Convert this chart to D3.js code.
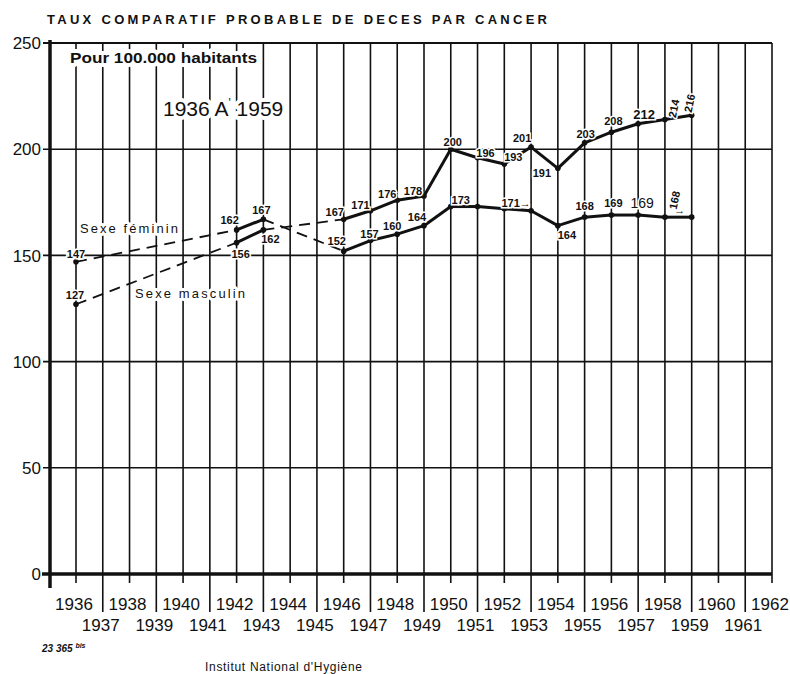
<!DOCTYPE html>
<html>
<head>
<meta charset="utf-8">
<script src="https://cdn.jsdelivr.net/npm/d3@7"></script>
<style>
  body { margin: 0; background: #fff; }
  text { font-family: "Liberation Sans", Arial, sans-serif; fill: #111; }
</style>
</head>
<body>
<div id="chart"></div>
<script>
// Data
var years = [1936, 1942, 1943, 1946, 1947, 1948, 1949, 1950, 1951, 1952, 1953, 1954, 1955, 1956, 1957, 1958, 1959]
var female = [147, 162, 167, 152, 157, 160, 164, 173, 173, 172, 171, 164, 168, 169, 169, 168, 168]
var male = [127, 156, 162, 167, 171, 176, 178, 200, 196, 193, 201, 191, 203, 208, 212, 214, 216]
var femaleLabels = ["147", "162", "167", "152", "157", "160", "164", "173", "", "", "171→", "164", "168", "169", "169", "", "168"]
var maleLabels = ["127", "156", "162", "167", "171", "176", "178", "200", "196", "193", "201", "191", "203", "208", "212", "214", "216"]
var yTicks = [0, 50, 100, 150, 200, 250]
var axisYears = d3.range(1936, 1963)

// label placement next to each point: [dx, dy, rotation]
var femaleLabelPos = [[0,-4,0],[-7,-6,0],[-2,-5,0],[-7,-6,0],[-1,-3,0],[-5,-4,0],[-7,-5,0],[10,-3,0],[0,0,0],[0,0,0],
  [-15,-4,0],[9,13,0],[0,-7,0],[2,-8,0],[4,-7,0],[0,0,0],[-17,-17,-78]]
var maleLabelPos = [[-1,-5,0],[4,15,0],[7,13,0],[-9,-3,0],[-10,-2,0],[-10,-2,0],[-11,-1,0],[2,-3,0],[8,-1,0],[9,-3,0],
  [-9,-5,0],[-16,9,0],[1,-5,0],[2,-7,0],[6,-5,0],[9,-11,-78],[-2,-12,-78]]

var W = 790, H = 674

var svg = d3.select("#chart").append("svg")
    .attr("width", W).attr("height", H)

var x = d3.scaleLinear().domain([1936, 1962]).range([76, 772])
var y = d3.scaleLinear().domain([0, 250]).range([574, 43])
var left = 50

// title
svg.append("text")
    .attr("x", 47).attr("y", 24)
    .attr("textLength", 500).attr("lengthAdjust", "spacing")
    .style("font-size", "13px").style("font-weight", "bold")
    .text("TAUX COMPARATIF PROBABLE DE DECES PAR CANCER")

var grid = svg.append("g")

// vertical year lines
grid.selectAll("line.v").data(axisYears).enter().append("line")
    .attr("class", "v")
    .attr("x1", d => x(d)).attr("x2", d => x(d))
    .attr("y1", y(250))
    .attr("y2", d => d % 2 ? 612 : y(0) + 9)
    .style("stroke", "#111").style("stroke-width", 1.6)

// horizontal lines
grid.selectAll("line.h").data(yTicks.filter(d => d > 0)).enter().append("line")
    .attr("class", "h")
    .attr("x1", left - 7).attr("x2", x(1962))
    .attr("y1", d => y(d)).attr("y2", d => y(d))
    .style("stroke", "#111").style("stroke-width", d => d == 250 ? 2 : 1.6)

// axes
svg.append("line")
    .attr("x1", left).attr("x2", left)
    .attr("y1", y(250) - 3).attr("y2", y(0) + 14)
    .style("stroke", "#111").style("stroke-width", 3.5)
svg.append("line")
    .attr("x1", left - 8).attr("x2", x(1962))
    .attr("y1", y(0)).attr("y2", y(0))
    .style("stroke", "#111").style("stroke-width", 3.5)

svg.selectAll("text.ytick").data(yTicks).enter().append("text")
    .attr("class", "ytick")
    .attr("x", 41).attr("y", d => y(d)).attr("dy", "0.36em")
    .attr("text-anchor", "end")
    .style("font-size", "17px")
    .text(d => d)

svg.selectAll("text.xtick").data(axisYears).enter().append("text")
    .attr("class", "xtick")
    .attr("x", d => x(d) - 2)
    .attr("y", d => d % 2 ? 631 : 610)
    .attr("text-anchor", "middle")
    .style("font-size", "17px")
    .text(d => d)

// annotations inside the plot
function halo(sel, w) {
  return sel.style("stroke", "#fff").style("stroke-width", w)
    .style("paint-order", "stroke").style("stroke-linejoin", "round")
}
halo(svg.append("text")
    .attr("x", 70).attr("y", 63)
    .attr("textLength", 187).attr("lengthAdjust", "spacingAndGlyphs")
    .style("font-size", "14px").style("font-weight", "bold")
    .text("Pour 100.000 habitants"), 8)

var period = svg.append("text")
    .attr("x", 163).attr("y", 116)
    .style("font-size", "21px")
halo(period, 8)
period.append("tspan").text("1936 A")
period.append("tspan").attr("dy", -9).style("font-size", "12px").text("'")
period.append("tspan").attr("dy", 9).text(" 1959")

halo(svg.append("text")
    .attr("x", 80).attr("y", 233)
    .attr("textLength", 98).attr("lengthAdjust", "spacing")
    .style("font-size", "13px")
    .text("Sexe féminin"), 6)
halo(svg.append("text")
    .attr("x", 135).attr("y", 298)
    .attr("textLength", 110).attr("lengthAdjust", "spacing")
    .style("font-size", "13px")
    .text("Sexe masculin"), 6)

// series
function drawSeries(values, labels, pos, name, big) {
  var g = svg.append("g").attr("id", name)
  var segs = d3.range(values.length - 1).map(i => ({
    a: i, b: i + 1, dashed: years[i + 1] - years[i] > 1
  }))
  g.selectAll("line").data(segs).enter().append("line")
    .attr("x1", d => x(years[d.a])).attr("y1", d => y(values[d.a]))
    .attr("x2", d => x(years[d.b])).attr("y2", d => y(values[d.b]))
    .style("stroke", "#111")
    .style("stroke-width", d => d.dashed ? 1.8 : 3)
    .style("stroke-dasharray", d => d.dashed ? "11,7" : null)
  g.selectAll("circle").data(values).enter().append("circle")
    .attr("cx", (d, i) => x(years[i])).attr("cy", d => y(d))
    .attr("r", 2.8).style("fill", "#111")
  g.selectAll("text").data(labels).enter().append("text")
    .attr("transform", (d, i) => "translate(" + (x(years[i]) + pos[i][0]) + "," + (y(values[i]) + pos[i][1]) + ") rotate(" + pos[i][2] + ")")
    .attr("dy", (d, i) => pos[i][2] ? "0.35em" : 0)
    .attr("text-anchor", "middle")
    .style("font-size", (d, i) => years[i] == 1957 ? big.size : "11px")
    .style("font-weight", (d, i) => years[i] == 1957 ? big.weight : "bold")
    .style("stroke", "#fff").style("stroke-width", 3).style("paint-order", "stroke")
    .text(d => d)
}
drawSeries(female, femaleLabels, femaleLabelPos, "fem", {size: "14px", weight: "normal"})
drawSeries(male, maleLabels, maleLabelPos, "masc", {size: "13px", weight: "bold"})

// little arrow under the rotated 168
svg.append("text")
    .attr("x", x(1959) - 12).attr("y", y(168) - 3)
    .attr("text-anchor", "middle")
    .style("font-size", "11px").style("font-weight", "bold")
    .text("→")

// footer
var ref = svg.append("text")
    .attr("x", 42).attr("y", 652)
    .style("font-size", "10px").style("font-weight", "bold").style("font-style", "italic")
ref.append("tspan").text("23 365 ")
ref.append("tspan").attr("dy", -4).style("font-size", "7px").text("bis")

svg.append("text")
    .attr("x", 205).attr("y", 671)
    .attr("textLength", 157).attr("lengthAdjust", "spacing")
    .style("font-size", "12px")
    .text("Institut National d'Hygiène")
</script>
</body>
</html>
